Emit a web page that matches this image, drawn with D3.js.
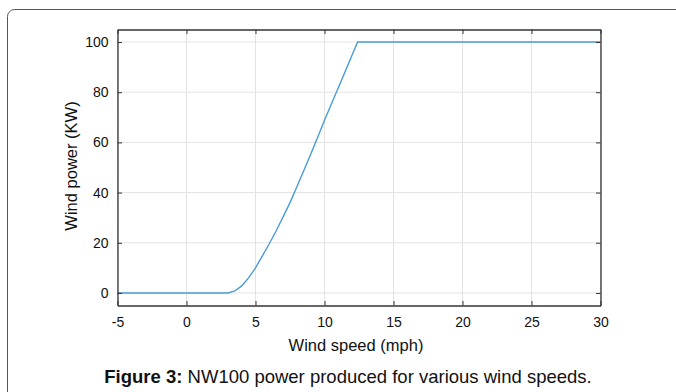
<!DOCTYPE html>
<html><head><meta charset="utf-8">
<script src="https://cdn.jsdelivr.net/npm/d3@7"></script>
<style>body{margin:0;background:#fff}svg{display:block}</style>
</head><body>
<script>
const windSpeed = [-5, 3, 3.5, 4, 4.5, 5, 5.5, 6, 6.5, 7, 7.5, 8, 8.5, 9, 9.5, 10, 10.5, 11, 11.5, 12, 12.4, 30];
const windPower = [0, 0, 0.8, 2.8, 6, 10, 14.8, 19.6, 24.8, 30.3, 36, 42.3, 48.8, 55.3, 62, 68.8, 75.3, 81.8, 88.3, 94.8, 100, 100];
const xTicks = [-5, 0, 5, 10, 15, 20, 25, 30];
const yTicks = [0, 20, 40, 60, 80, 100];
const xLabel = "Wind speed (mph)";
const yLabel = "Wind power (KW)";
const captionBold = "Figure 3:";
const captionText = " NW100 power produced for various wind speeds.";

const W = 676, H = 392;
const svg = d3.select("body").append("svg").attr("width", W).attr("height", H);
const font = "Liberation Sans, Arial, sans-serif";

// outer frame
svg.append("rect").attr("x", 7.5).attr("y", 9.5).attr("width", 700).attr("height", 420)
  .attr("rx", 7).attr("fill", "none").attr("stroke", "#555").attr("stroke-width", 1);

const L = 117.5, R = 600.5, T = 29.5, B = 305.5;
const x = d3.scaleLinear().domain([-5, 30]).range([L, R]);
const y = d3.scaleLinear().domain([-5, 105]).range([B, T]);

// grid
const g = svg.append("g");
g.selectAll(".vg").data(xTicks).join("line")
  .attr("x1", d => x(d)).attr("x2", d => x(d)).attr("y1", T).attr("y2", B)
  .attr("stroke", "#e3e3e3").attr("stroke-width", 1);
g.selectAll(".hg").data(yTicks).join("line")
  .attr("y1", d => y(d)).attr("y2", d => y(d)).attr("x1", L).attr("x2", R)
  .attr("stroke", "#e3e3e3").attr("stroke-width", 1);

// line
const pts = windSpeed.map((s, i) => [s, windPower[i]]);
svg.append("path").datum(pts)
  .attr("d", d3.line().x(d => x(d[0])).y(d => y(d[1])))
  .attr("fill", "none").attr("stroke", "#4a9bd6").attr("stroke-width", 1.4);

// axes (MATLAB-style: ticks inward, mirrored)
const tl = 4.5;
const axCol = "#333";
const fmt = d => String(d);
svg.append("g").attr("transform", `translate(0,${B})`)
  .call(d3.axisBottom(x).tickValues(xTicks).tickFormat(fmt).tickSizeInner(-tl).tickSizeOuter(0).tickPadding(12))
  .call(a => { a.select(".domain").attr("stroke", axCol).attr("stroke-width", 1.3); a.selectAll("line").attr("stroke", axCol); a.selectAll("text").attr("font-family", font).attr("font-size", 14).attr("fill", "#111"); });
svg.append("g").attr("transform", `translate(0,${T})`)
  .call(d3.axisTop(x).tickValues(xTicks).tickSizeInner(-tl).tickSizeOuter(0).tickFormat(""))
  .call(a => { a.select(".domain").attr("stroke", axCol).attr("stroke-width", 1.3); a.selectAll("line").attr("stroke", axCol); });
svg.append("g").attr("transform", `translate(${L},0)`)
  .call(d3.axisLeft(y).tickValues(yTicks).tickFormat(fmt).tickSizeInner(-tl).tickSizeOuter(0).tickPadding(9))
  .call(a => { a.select(".domain").attr("stroke", axCol).attr("stroke-width", 1.3); a.selectAll("line").attr("stroke", axCol); a.selectAll("text").attr("font-family", font).attr("font-size", 14).attr("fill", "#111"); });
svg.append("g").attr("transform", `translate(${R},0)`)
  .call(d3.axisRight(y).tickValues(yTicks).tickSizeInner(-tl).tickSizeOuter(0).tickFormat(""))
  .call(a => { a.select(".domain").attr("stroke", axCol).attr("stroke-width", 1.3); a.selectAll("line").attr("stroke", axCol); });

// labels
svg.append("text").attr("x", 356).attr("y", 351).attr("text-anchor", "middle")
  .attr("font-family", font).attr("font-size", 16.5).attr("fill", "#111").text(xLabel);
svg.append("text").attr("transform", `translate(77,166) rotate(-90)`).attr("text-anchor", "middle")
  .attr("font-family", font).attr("font-size", 16.5).attr("fill", "#111").text(yLabel);

const cap = svg.append("text").attr("x", 348).attr("y", 383).attr("text-anchor", "middle")
  .attr("font-family", font).attr("font-size", 18.5).attr("fill", "#111");
cap.append("tspan").attr("font-weight", "bold").text(captionBold);
cap.append("tspan").text(captionText);
</script>
</body></html>
